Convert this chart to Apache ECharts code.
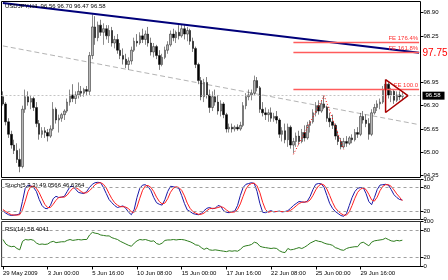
<!DOCTYPE html>
<html><head><meta charset="utf-8">
<script src="https://cdn.jsdelivr.net/npm/echarts@6/dist/echarts.min.js"></script>
<style>html,body{margin:0;padding:0;background:#fff}#c{width:448px;height:280px}</style>
</head><body><div id="c"></div>
<script>
// ---------- DATA ----------
const tickLabels = ['29 May 2009','3 Jun 00:00','5 Jun 16:00','10 Jun 08:00','15 Jun 00:00','17 Jun 16:00','22 Jun 08:00','25 Jun 00:00','29 Jun 16:00'];
const priceTicks = [94.35, 95.00, 95.65, 96.30, 96.95, 98.25, 98.90];
const oscTicks = [0, 20, 80, 100];
const oscLevels = [20, 80];

const opens = [96.55,96.35,95.85,95.50,95.20,95.05,94.80,94.60,96.20,96.55,
96.40,96.50,96.25,95.80,95.50,95.60,95.55,95.45,95.65,96.20,
95.90,95.95,96.05,96.15,96.40,96.60,96.50,96.60,96.70,96.65,
96.75,96.70,97.70,98.50,98.20,98.55,98.35,98.45,98.25,98.40,
98.05,98.15,97.85,97.70,97.60,97.45,97.55,97.85,98.10,98.05,
98.25,98.15,98.30,98.05,97.80,97.95,97.70,97.45,97.65,97.85,
98.00,98.30,98.20,98.35,98.25,98.45,98.30,98.40,98.10,97.90,
97.45,97.00,96.55,96.95,96.60,96.25,96.55,96.40,96.15,96.35,
96.05,95.65,95.70,95.65,95.70,95.65,95.75,96.30,96.55,96.60,
96.65,97.00,96.80,96.20,96.10,96.05,96.10,95.95,96.00,95.90,
95.50,95.60,95.35,95.70,95.20,95.30,95.45,95.30,95.55,95.40,
95.75,95.85,96.10,96.30,96.15,96.35,96.25,95.95,95.85,95.75,
95.45,95.30,95.15,95.30,95.25,95.40,95.35,95.55,95.50,96.00,
95.90,95.80,95.50,96.10,96.25,96.35,96.40,96.75,96.90,96.60,
96.70,96.45,96.60,96.56];
const highs = [96.70,96.40,95.95,95.60,95.35,95.25,95.10,96.30,96.75,96.70,
96.60,96.55,96.40,95.90,95.70,95.70,95.65,95.75,96.40,96.25,
96.05,96.10,96.20,96.50,96.75,96.90,96.70,96.95,96.85,96.80,
96.85,97.80,98.85,98.80,98.65,98.70,98.60,98.55,98.55,98.50,
98.25,98.30,98.05,97.90,97.75,97.65,97.95,98.20,98.30,98.35,
98.45,98.40,98.50,98.20,98.05,98.00,97.85,97.75,97.95,98.10,
98.40,98.45,98.40,98.55,98.57,98.55,98.50,98.45,98.20,97.95,
97.50,97.10,97.05,97.10,96.75,96.70,96.75,96.60,96.45,96.40,
96.10,95.80,95.80,95.75,95.78,95.85,96.40,96.65,96.75,96.75,
97.14,97.10,96.85,96.40,96.25,96.20,96.25,96.10,96.15,95.95,
95.70,95.80,95.80,95.75,95.40,95.55,95.60,95.65,95.75,95.85,
95.90,96.20,96.40,96.45,96.45,96.58,96.30,96.10,96.05,95.80,
95.60,95.40,95.40,95.45,95.45,95.50,95.65,95.70,96.10,96.15,
96.05,95.95,96.20,96.35,96.45,96.50,96.85,97.03,96.95,96.80,
96.75,96.70,96.70,96.70];
const lows = [96.30,95.75,95.40,95.10,94.95,94.70,94.44,94.55,96.10,96.30,
96.20,96.15,95.70,95.35,95.40,95.40,95.30,95.40,95.60,95.80,
95.55,95.85,95.90,96.10,96.30,96.40,96.35,96.50,96.55,96.55,
96.60,96.60,97.60,98.00,98.10,98.25,98.00,98.15,98.05,97.95,
97.90,97.75,97.60,97.45,97.35,97.30,97.45,97.80,97.95,98.00,
98.05,98.00,97.95,97.70,97.65,97.60,97.30,97.40,97.60,97.75,
97.95,98.10,98.05,98.15,98.20,98.15,98.10,98.00,97.80,97.35,
96.90,96.45,96.40,96.50,96.10,96.15,96.30,96.05,96.00,95.95,
95.55,95.55,95.55,95.58,95.60,95.60,95.70,96.20,96.45,96.45,
96.60,96.70,96.10,96.00,95.90,95.85,95.85,95.85,95.80,95.40,
95.30,95.25,95.15,95.10,94.97,95.15,95.20,95.25,95.30,95.35,
95.55,95.80,96.00,96.05,96.10,96.20,95.85,95.70,95.65,95.35,
95.20,95.08,95.10,95.15,95.20,95.25,95.30,95.40,95.45,95.80,
95.70,95.35,95.45,96.05,96.15,96.20,96.35,96.60,96.50,96.40,
96.35,96.40,96.45,96.47];
const closes = [96.35,95.85,95.50,95.20,95.05,94.80,94.60,96.20,96.55,96.40,
96.50,96.25,95.80,95.50,95.60,95.55,95.45,95.65,96.20,95.90,
95.95,96.05,96.15,96.40,96.60,96.50,96.60,96.70,96.65,96.75,
96.70,97.70,98.50,98.20,98.55,98.35,98.45,98.25,98.40,98.05,
98.15,97.85,97.70,97.60,97.45,97.55,97.85,98.10,98.05,98.25,
98.15,98.30,98.05,97.80,97.95,97.70,97.45,97.65,97.85,98.00,
98.30,98.20,98.35,98.25,98.45,98.30,98.40,98.10,97.90,97.45,
97.00,96.55,96.95,96.60,96.25,96.55,96.40,96.15,96.35,96.05,
95.65,95.70,95.65,95.70,95.65,95.75,96.30,96.55,96.60,96.65,
97.00,96.80,96.20,96.10,96.05,96.10,95.95,96.00,95.90,95.50,
95.60,95.35,95.70,95.20,95.30,95.45,95.30,95.55,95.40,95.75,
95.85,96.10,96.30,96.15,96.35,96.25,95.95,95.85,95.75,95.45,
95.30,95.15,95.30,95.25,95.40,95.35,95.55,95.50,96.00,95.90,
95.80,95.50,96.10,96.25,96.35,96.40,96.75,96.90,96.60,96.70,
96.45,96.60,96.55,96.58];

const stochMain = [22,16,12,10,11,12,14,45,78,86,
84,80,70,50,35,28,27,35,52,58,
55,56,58,70,82,83,76,68,66,65,
70,80,88,92,93,92,80,65,50,42,
35,30,32,34,28,18,12,25,55,78,
86,87,82,72,55,42,38,36,50,70,
83,82,80,78,60,40,24,20,15,13,
12,15,22,28,30,27,28,35,33,22,
18,17,20,21,35,60,80,88,90,92,
90,70,40,18,17,20,22,19,20,21,
19,20,22,28,35,40,45,44,43,46,
58,75,88,90,89,80,60,40,28,20,
15,10,8,15,35,55,70,78,80,80,
65,45,37,55,75,86,87,88,86,75,
62,55,50,49.0566];
const stochSignal = [25,20,16,12,11,11,12,24,46,70,
83,83,78,67,52,38,30,30,38,48,
55,56,56,61,70,78,80,76,70,66,
67,72,79,87,91,92,88,79,65,52,
42,36,32,32,31,27,19,18,31,53,
73,84,85,80,70,56,45,39,41,52,
68,78,82,80,73,59,41,28,20,16,
13,13,16,22,27,28,28,30,32,30,
24,19,18,19,25,39,58,76,86,90,
91,84,67,43,25,18,20,20,20,20,
20,20,20,23,28,34,40,43,44,44,
49,60,74,84,89,86,76,60,43,29,
21,15,11,11,19,35,53,68,76,79,
75,63,49,46,56,72,83,87,87,83,
74,64,56,46.6364];
const rsi = [60,50,46,44,45,40,37,56,60,59,
60,58,52,49,50,49,50,54,56,53,
54,55,55,58,60,58,59,60,59,60,
60,70,76,74,73,70,69,68,68,64,
62,60,56,53,50,47,45,52,57,60,
59,60,58,56,57,51,49,52,58,59,
59,60,59,60,60,59,57,55,52,48,
47,42,38,41,37,36,37,36,35,34,
33,35,34,35,34,38,44,46,47,49,
54,52,45,43,42,41,40,41,40,35,
32,31,40,37,38,40,42,40,43,47,
52,55,58,56,55,52,50,49,47,42,
40,37,36,40,42,43,44,44,52,54,
50,46,54,57,58,59,60,63,60,57,
56,58,57,58.4041];

// drawn objects (bar index, price)
const blueTrendX = [0, 149], blueTrendY = [99.17, 97.78];
const greyTrendX = [0, 149], greyTrendY = [97.97, 95.77];
const zigzagX = [104, 115, 122], zigzagY = [94.94, 96.58, 95.08];
const triangleX = [137, 145, 137, 137], triangleY = [97.03, 96.58, 96.11, 97.03];
const feNames = ['FE 176.4%', 'FE 161.8%', 'FE 100.0'];
const feLevels = [98.07, 97.79, 96.77];
const feStart = 104, feEnd = 149;
const bidPrice = 96.58;
const markedPrice = 97.75;
const lastOHLC = [96.56, 96.70, 96.47, 96.58];

// ---------- BUILD ----------
const nSlots = 150;
const categories = [];
for (let i = 0; i < nSlots; i++) categories.push(String(i));
const candles = opens.map((o, i) => [o, closes[i], lows[i], highs[i]]);
const pairs = (xs, ys) => xs.map((x, i) => [x, ys[i]]);

const F = 'Liberation Sans, Arial, sans-serif';
const axisTxt = { fontSize: 6, color: '#000', fontFamily: F };

const chart = echarts.init(document.getElementById('c'), null, { renderer: 'canvas' });

const xBase = (gi, showLabels) => ({
  type: 'category', gridIndex: gi, data: categories, boundaryGap: true,
  axisLine: { show: showLabels, lineStyle: { color: '#000', width: 1 } },
  axisTick: { show: showLabels, alignWithLabel: true, length: 3, lineStyle: { color: '#000' },
    interval: (i) => i % 16 === 0 && i <= 128 },
  axisLabel: { show: showLabels, ...axisTxt, align: 'left', margin: 4,
    interval: (i) => i % 16 === 0 && i <= 128,
    formatter: (v, i) => tickLabels[Math.round(i / 16)] || '' },
  splitLine: { show: false }
});

const oscY = (gi) => ({
  type: 'value', gridIndex: gi, position: 'right', min: 0, max: 100,
  splitLine: { show: false }, axisLine: { show: false },
  axisTick: { show: true, customValues: oscTicks, length: 3, lineStyle: { color: '#000' } },
  axisLabel: { ...axisTxt, customValues: oscTicks, margin: 3 }
});

const levelLines = {
  silent: true, symbol: 'none', label: { show: false },
  lineStyle: { color: '#a0a0a0', type: [3, 3], width: 1 },
  data: oscLevels.map(v => ({ yAxis: v }))
};

const option = {
  animation: false,
  backgroundColor: '#fff',
  grid: [
    { left: 1.5, right: 27.5, top: 1.5, height: 176, show: true, borderColor: '#000', borderWidth: 1, backgroundColor: '#fff' },
    { left: 1.5, right: 27.5, top: 179.5, height: 40, show: true, borderColor: '#333', borderWidth: 1, backgroundColor: '#fff' },
    { left: 1.5, right: 27.5, top: 221.5, height: 45, show: true, borderColor: '#333', borderWidth: 1, backgroundColor: '#fff' }
  ],
  xAxis: [xBase(0, false), xBase(1, false), xBase(2, true)],
  yAxis: [
    { type: 'value', gridIndex: 0, position: 'right', min: 94.294, max: 99.21,
      splitLine: { show: false }, axisLine: { show: false },
      axisTick: { show: true, customValues: priceTicks, length: 3, lineStyle: { color: '#000' } },
      axisLabel: { ...axisTxt, customValues: priceTicks, margin: 3, formatter: v => v.toFixed(2) } },
    oscY(1), oscY(2)
  ],
  series: [
    { type: 'line', xAxisIndex: 0, yAxisIndex: 0, data: pairs(greyTrendX, greyTrendY),
      symbol: 'none', silent: true, lineStyle: { color: '#b4b4b4', width: 1, type: [5, 3] }, z: 1,
      markLine: { silent: true, symbol: 'none',
        data: [
          { yAxis: bidPrice, lineStyle: { color: '#c4c4c4', type: [2, 2], width: 1 },
            label: { show: true, position: 'end', distance: 2, formatter: bidPrice.toFixed(2),
              color: '#fff', backgroundColor: '#000', padding: [1, 4, 1, 3], fontSize: 6, fontFamily: F } },
          { yAxis: markedPrice + 0.02, lineStyle: { color: 'rgba(0,0,0,0)', width: 0 },
            label: { show: true, position: 'end', distance: 2, formatter: markedPrice.toFixed(2),
              color: '#ff0000', fontSize: 10, fontFamily: F } }
        ] } },
    { type: 'candlestick', xAxisIndex: 0, yAxisIndex: 0, data: candles, barWidth: 2, z: 3,
      itemStyle: { color: '#b8b8b8', color0: '#000', borderColor: '#1a1a1a', borderColor0: '#000', borderWidth: 0.5 },
      markLine: { silent: true, symbol: 'none',
        lineStyle: { color: '#ff5c5c', width: 1.3, type: 'solid' },
        label: { show: true, position: 'insideEndTop', formatter: '{b}', color: '#ff3030', fontSize: 6, fontFamily: F, distance: 1 },
        data: feLevels.map((v, i) => [{ name: feNames[i], coord: [feStart, v] }, { coord: [feEnd, v] }]) } },
    { type: 'line', xAxisIndex: 0, yAxisIndex: 0, data: pairs(blueTrendX, blueTrendY),
      symbol: 'none', silent: true, lineStyle: { color: '#00007a', width: 2 }, z: 4 },
    { type: 'line', xAxisIndex: 0, yAxisIndex: 0, data: pairs(zigzagX, zigzagY),
      symbol: 'none', silent: true, lineStyle: { color: '#ff0000', width: 1, type: [1, 2] }, z: 5 },
    { type: 'line', xAxisIndex: 0, yAxisIndex: 0, data: pairs(triangleX, triangleY),
      symbol: 'none', silent: true, lineStyle: { color: '#a80000', width: 1.5 }, z: 5 },

    { type: 'line', xAxisIndex: 1, yAxisIndex: 1, data: stochMain, symbol: 'none', silent: true,
      lineStyle: { color: '#1a1aa8', width: 1 }, z: 3, markLine: levelLines },
    { type: 'line', xAxisIndex: 1, yAxisIndex: 1, data: stochSignal, symbol: 'none', silent: true,
      lineStyle: { color: '#ff2020', width: 1 }, z: 4 },

    { type: 'line', xAxisIndex: 2, yAxisIndex: 2, data: rsi, symbol: 'none', silent: true,
      lineStyle: { color: '#2e7d1e', width: 1 }, z: 3, markLine: levelLines }
  ],
  graphic: [
    { type: 'text', left: 5, top: 3, z: 100, style: { text: 'USDJPY,H4  ' + lastOHLC.map(v => v.toFixed(2)).join(' '), font: '6px ' + F, fill: '#000' } },
    { type: 'text', left: 5, top: 182, z: 100, style: { text: 'Stoch(5,3,3) ' + stochMain[stochMain.length - 1].toFixed(4) + ' ' + stochSignal[stochSignal.length - 1].toFixed(4), font: '6px ' + F, fill: '#000' } },
    { type: 'text', left: 5, top: 226, z: 100, style: { text: 'RSI(14) ' + rsi[rsi.length - 1].toFixed(4), font: '6px ' + F, fill: '#000' } }
  ]
};
chart.setOption(option);
</script>
</body></html>
